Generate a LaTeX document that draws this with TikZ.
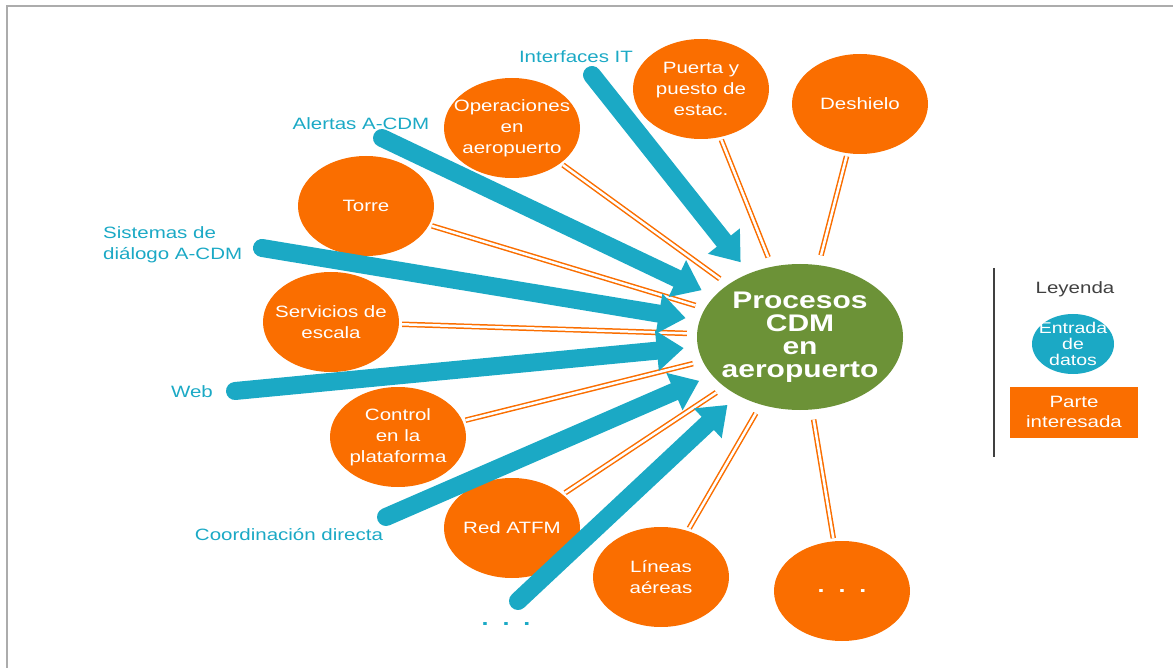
\documentclass[tikz,border=0pt]{standalone}
\usepackage{fontspec}
\setmainfont[FakeStretch=1.25]{Liberation Sans}
\usetikzlibrary{arrows.meta,shapes.geometric}
\definecolor{cdmcyan}{RGB}{27,169,197}
\definecolor{cdmorange}{RGB}{250,110,0}
\definecolor{cdmgreen}{RGB}{108,146,55}
\definecolor{cdmgray}{RGB}{64,64,64}
\begin{document}
\begin{tikzpicture}[x=1pt, y=-1pt,
  every node/.style={font=\fontsize{16.4}{21}\selectfont, align=center},
  party/.style={ellipse, fill=cdmorange, text=white, inner sep=-15pt, minimum width=136pt, minimum height=100pt},
  feed/.style={text=cdmcyan, inner sep=0pt},
  dots/.style={font=\fontsize{20}{21}\selectfont\bfseries},
  link/.style={draw=cdmorange, double=white, double distance=2.5pt, line width=1.5pt, shorten <=3pt, shorten >=10pt},
  flow/.style={cdmcyan, line width=18pt, line cap=round, -{Triangle[length=27pt, width=39pt]}, shorten >=14pt}]
\useasboundingbox (0,0) rectangle (1173,668);
\draw[gray!65, line width=2pt] (6.5,668) -- (6.5,6.5) -- (1173,6.5);
\node[ellipse, fill=cdmgreen, text=white, inner sep=-25pt, minimum width=206pt, minimum height=146pt,
  font=\fontsize{24}{23}\selectfont\bfseries] (cdm) at (800,337) {Procesos\\CDM\\en\\aeropuerto};
\node[party] (puerta) at (701,89) {Puerta y\\puesto de\\estac.};
\node[party] (deshielo) at (860,104) {Deshielo};
\node[party] (operaciones) at (512,128) {Operaciones\\en\\aeropuerto};
\node[party] (torre) at (366,206) {Torre};
\node[party] (servicios) at (331,322) {Servicios de\\escala};
\node[party] (control) at (398,437) {Control\\en la\\plataforma};
\node[party] (red) at (512,528) {Red ATFM};
\node[party] (lineas) at (661,577) {Líneas\\aéreas};
\node[party, dots] (otros) at (842,591) {.\ \ .\ \ .};
\node[feed] (interfaces) at (576,57) {Interfaces IT};
\node[feed] (alertas) at (361,124) {Alertas A-CDM};
\node[feed, anchor=west, align=left] (sistemas) at (103,245) {Sistemas de\\diálogo A-CDM};
\node[feed] (web) at (192,392) {Web};
\node[feed] (coordinacion) at (289,535) {Coordinación directa};
\node[feed, dots] (masdatos) at (506,624) {.\ \ .\ \ .};
\coordinate (t-int) at (592,75);
\coordinate (t-ale) at (382,138);
\coordinate (t-sis) at (262,248);
\coordinate (t-web) at (235,391);
\coordinate (t-coo) at (386,517);
\coordinate (t-mas) at (518,601);
\foreach \p in {puerta,deshielo,operaciones,torre,servicios,control,red,lineas,otros}
  \draw[link] (\p) -- (cdm);
\foreach \t in {t-int,t-ale,t-sis,t-web,t-coo,t-mas}
  \draw[flow] (\t) -- (cdm);
\draw[cdmgray, line width=1.5pt] (994,268) coordinate (lg-top) -- (994,457) coordinate (lg-bot);
\node[text=cdmgray] (leyenda) at (1075,289) {Leyenda};
\node[ellipse, fill=cdmcyan, text=white, inner sep=-10pt, minimum width=82pt, minimum height=60pt,
  font=\fontsize{15.6}{16}\selectfont] (entrada) at (1073,344) {Entrada\\de\\datos};
\node[fill=cdmorange, text=white, minimum width=128pt, minimum height=51pt, inner sep=0pt,
  font=\fontsize{16.4}{20}\selectfont] (parte) at (1074,412) {Parte\\interesada};
\end{tikzpicture}
\end{document}
